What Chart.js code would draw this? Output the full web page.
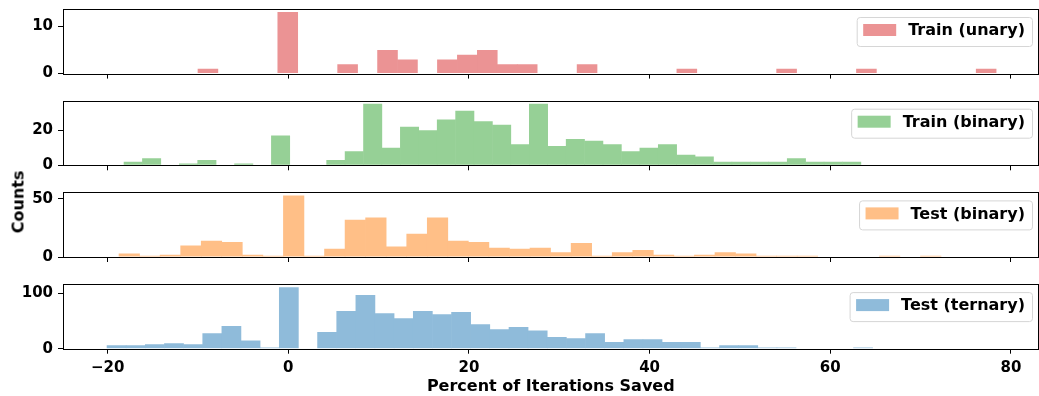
<!DOCTYPE html>
<html>
<head>
<meta charset="utf-8">
<script src="https://cdn.jsdelivr.net/npm/chart.js@4.4.1/dist/chart.umd.min.js"></script>
<style>
  html, body { margin: 0; padding: 0; background: #fff; }
  #wrap { position: relative; width: 1039px; height: 396px; overflow: hidden; }
  #wrap canvas { position: absolute; left: 0; top: 0; }
  #ylabel {
    position: absolute; left: 17.5px; top: 202px;
    transform: translate(-50%, -50%) rotate(-90deg);
    font: bold 16px 'DejaVu Sans'; color: #000; white-space: nowrap;
  }
</style>
</head>
<body>
<div id="wrap">
  <canvas id="c0" width="1039" height="396"></canvas>
  <canvas id="c1" width="1039" height="396"></canvas>
  <canvas id="c2" width="1039" height="396"></canvas>
  <canvas id="c3" width="1039" height="396"></canvas>
  <div id="ylabel">Counts</div>
</div>
<script>
// shared x axis
const xTicks = [-20, 0, 20, 40, 60, 80];
const xMin = -24.94;
const xMax = 83.05;

// histogram bins: first edge, bin width, counts (40 bins each)
const trainUnaryStart = -10.0;
const trainUnaryWidth = 2.209;
const trainUnaryCounts = [1, 0, 0, 0, 13, 0, 0, 2, 0, 5, 3, 0, 3, 4, 5, 2, 2, 0, 0, 2,
                          0, 0, 0, 0, 1, 0, 0, 0, 0, 1, 0, 0, 0, 1, 0, 0, 0, 0, 0, 1];

const trainBinaryStart = -18.19;
const trainBinaryWidth = 2.0395;
const trainBinaryCounts = [2, 4, 0, 1, 3, 0, 1, 0, 17, 0, 0, 3, 8, 35, 10, 22, 20, 26, 31, 25,
                           23, 12, 35, 11, 15, 14, 12, 8, 10, 12, 6, 5, 2, 2, 2, 2, 4, 2, 2, 2];

const testBinaryStart = -18.74;
const testBinaryWidth = 2.275;
const testBinaryCounts = [3, 1, 2, 10, 14, 13, 2, 1, 53, 1, 7, 32, 34, 9, 20, 34, 14, 13, 8, 7,
                          8, 4, 12, 1, 4, 6, 2, 1, 2, 4, 3, 1, 1, 1, 0, 0, 0, 1, 0, 1];

const testTernaryStart = -20.07;
const testTernaryWidth = 2.119;
const testTernaryCounts = [6, 6, 8, 10, 8, 28, 41, 15, 2, 111, 0, 30, 68, 97, 64, 55, 68, 62, 66, 44,
                           35, 39, 33, 21, 19, 28, 12, 17, 17, 12, 12, 2, 6, 6, 2, 2, 1, 1, 1, 2];

const unaryTicks = [0, 10];
const trainBinaryTicks = [0, 20];
const testBinaryTicks = [0, 50];
const ternaryTicks = [0, 100];

const W = 1039, H = 396;
const plotTops = [9, 100.7, 192.4, 284.1];
const plotHeight = 64.6;

Chart.defaults.font.family = "'DejaVu Sans'";
Chart.defaults.font.weight = 'bold';
Chart.defaults.color = '#000';

function fmtTick(value) {
    return value < 0 ? '\u2212' + Math.abs(value) : String(value);
}

const framePlugin = {
    id: 'frameLegend',
    afterDraw(chart) {
        const { ctx, chartArea: a } = chart;
        const ds = chart.data.datasets[0];
        ctx.save();
        // spines
        ctx.strokeStyle = '#000';
        ctx.lineWidth = 1;
        ctx.strokeRect(Math.round(a.left) + 0.5, Math.round(a.top) + 0.5,
                       Math.round(a.right) - Math.round(a.left) - 1, Math.round(a.bottom) - Math.round(a.top));
        // legend box
        ctx.font = "bold 16px 'DejaVu Sans'";
        const tw = ctx.measureText(ds.label).width;
        const boxRight = a.right - 6.5;
        const boxTop = a.top + 8;
        const boxH = 29;
        const boxLeft = boxRight - 7 - tw - 12 - 33 - 6.5;
        ctx.beginPath();
        ctx.roundRect(boxLeft + 0.5, boxTop + 0.5, boxRight - boxLeft, boxH, 3);
        ctx.fillStyle = 'rgba(255,255,255,0.8)';
        ctx.fill();
        ctx.strokeStyle = '#d6d6d6';
        ctx.stroke();
        ctx.fillStyle = ds.backgroundColor;
        ctx.fillRect(boxLeft + 6.5, boxTop + 7, 33, 12);
        ctx.fillStyle = '#000';
        ctx.textBaseline = 'middle';
        ctx.textAlign = 'left';
        ctx.fillText(ds.label, boxLeft + 6.5 + 33 + 12, boxTop + 14);
        ctx.restore();
    }
};

function makePanel(idx, label, start, width, counts, color, yTicks) {
    const isLast = idx === 3;
    const top = plotTops[idx];
    const bottom = top + plotHeight;
    const xAxisH = isLast ? H - bottom : 10;
    const data = counts.map((c, i) => ({ x: start + width * (i + 0.5), y: c }));
    const yMax = Math.max(...counts) * 1.05;

    return new Chart(document.getElementById('c' + idx), {
        type: 'bar',
        data: {
            datasets: [{
                label: label,
                data: data,
                backgroundColor: color,
                borderWidth: 0,
                barPercentage: 1.03,
                categoryPercentage: 1,
                grouped: false
            }]
        },
        options: {
            responsive: false,
            animation: false,
            layout: { padding: { top: top, left: 0, right: 0.5, bottom: H - bottom - xAxisH } },
            plugins: { legend: { display: false }, tooltip: { enabled: false } },
            scales: {
                x: {
                    type: 'linear',
                    min: xMin,
                    max: xMax,
                    offset: false,
                    grid: { display: true, offset: false, drawOnChartArea: false, drawTicks: true,
                            tickLength: 5, color: '#000', tickColor: '#000', tickWidth: 1 },
                    border: { display: false },
                    ticks: { display: isLast, padding: 5, font: { size: 15, weight: 'bold' },
                             color: '#000', maxRotation: 0, callback: fmtTick },
                    title: { display: isLast, text: 'Percent of Iterations Saved',
                             font: { size: 16, weight: 'bold', lineHeight: 1.1 }, color: '#000',
                             padding: { top: 0, bottom: 0 } },
                    afterBuildTicks: s => { s.ticks = xTicks.map(v => ({ value: v })); },
                    afterFit: s => { s.height = xAxisH; s.paddingLeft = 0; s.paddingRight = 0; }
                },
                y: {
                    min: 0,
                    max: yMax,
                    grid: { display: true, drawOnChartArea: false, drawTicks: true,
                            tickLength: 5, color: '#000', tickColor: '#000', tickWidth: 1 },
                    border: { display: false },
                    ticks: { padding: 5, font: { size: 15, weight: 'bold' }, color: '#000', callback: fmtTick },
                    afterBuildTicks: s => { s.ticks = yTicks.map(v => ({ value: v })); },
                    afterFit: s => { s.width = 63; s.paddingTop = 0; s.paddingBottom = 0; }
                }
            }
        },
        plugins: [framePlugin]
    });
}

makePanel(0, 'Train (unary)', trainUnaryStart, trainUnaryWidth, trainUnaryCounts, '#eb9394', unaryTicks);
makePanel(1, 'Train (binary)', trainBinaryStart, trainBinaryWidth, trainBinaryCounts, '#96d096', trainBinaryTicks);
makePanel(2, 'Test (binary)', testBinaryStart, testBinaryWidth, testBinaryCounts, '#ffbf87', testBinaryTicks);
makePanel(3, 'Test (ternary)', testTernaryStart, testTernaryWidth, testTernaryCounts, '#8fbbda', ternaryTicks);
</script>
</body>
</html>
